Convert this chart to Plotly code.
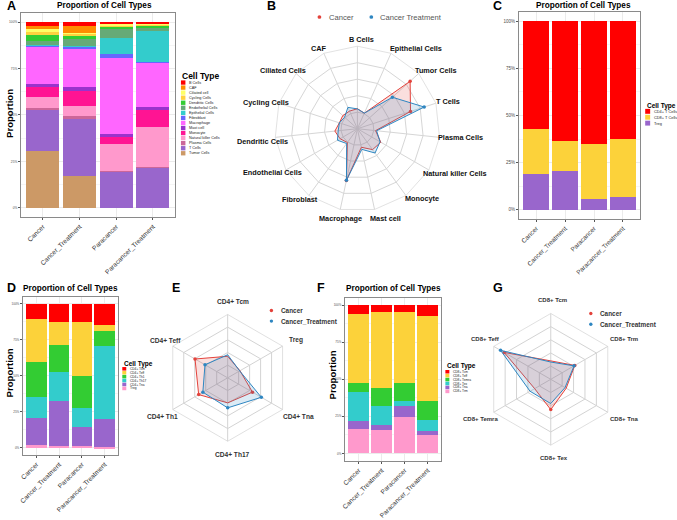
import plotly.graph_objects as go

W, H = 677, 520
FONT = "Arial, Liberation Sans, sans-serif"

# ---------------- data ----------------
groups = ["Cancer", "Cancer_Treatment", "Paracancer", "Paracancer_Treatment"]

# Panel A (all cell types) - percentages per group, legend order (top of stack first)
a_types = ["B Cells", "CAF", "Ciliated cell", "Cycling Cells", "Dendritic Cells",
           "Endothelial Cells", "Epithelial Cells", "Fibroblast", "Macrophage",
           "Mast cell", "Monocyte", "Natural killer Cells", "Plasma Cells",
           "T Cells", "Tumor Cells"]
a_colors = ["#FF0000", "#FF8C00", "#FFFF66", "#FFD23F", "#33CC33", "#66AA77",
            "#33CCCC", "#6666FF", "#FF66FF", "#9933CC", "#FF1493", "#FF99CC",
            "#CC6699", "#9966CC", "#CC9966"]
a_cancer = [2.0, 1.6, 1.8, 1.4, 3.5, 2.0, 0.3, 0.3, 20.8, 1.4, 5.3, 6.0, 1.0, 22.4, 31.0]
a_cancer_t = [1.9, 3.9, 0.4, 1.4, 1.6, 3.7, 0.3, 1.0, 20.6, 2.6, 7.7, 5.5, 1.6, 30.6, 17.4]
a_para = [0.5, 0.3, 0.7, 0.9, 1.2, 4.9, 8.5, 2.5, 40.7, 1.6, 4.0, 14.6, 0.3, 19.5, 0.0]
a_para_t = [0.5, 0.3, 0.4, 0.5, 1.0, 2.1, 16.7, 0.2, 24.1, 1.8, 8.8, 21.8, 0.4, 21.7, 0.0]

# Panel B radar
b_axes = ["B Cells", "Epithelial Cells", "Tumor Cells", "T Cells", "Plasma Cells",
          "Natural killer Cells", "Monocyte", "Mast cell", "Macrophage", "Fibroblast",
          "Endothelial Cells", "Dendritic Cells", "Cycling Cells", "Ciliated Cells", "CAF"]
b_cancer = [2.0, 0.3, 31.0, 22.4, 1.0, 6.0, 5.3, 1.4, 20.8, 0.3, 2.0, 3.5, 1.4, 1.8, 1.6]
b_cancer_t = [1.9, 0.3, 17.4, 30.6, 1.6, 5.5, 7.7, 2.6, 20.6, 1.0, 3.7, 1.6, 1.4, 0.4, 3.9]

# Panel C (T cells)
c_types = ["CD4+ T Cells", "CD8+ T Cells", "Treg"]
c_colors = ["#FF0000", "#FCD23A", "#9966CC"]
c_cancer = [57.1, 24.0, 18.9]
c_cancer_t = [63.7, 15.7, 20.6]
c_para = [65.0, 29.2, 5.8]
c_para_t = [62.3, 30.9, 6.8]

# Panel D (CD4+)
d_types = ["CD4+ Tcm", "CD4+ Teff", "CD4+ Th1", "CD4+ Th17", "CD4+ Tna", "Treg"]
d_colors = ["#FF0000", "#FCD23A", "#33CC33", "#33CCCC", "#9966CC", "#FF99CC"]
d_cancer = [10.5, 29.6, 24.6, 14.6, 18.9, 1.8]
d_cancer_t = [12.3, 16.0, 18.9, 20.5, 31.0, 1.4]
d_para = [12.8, 37.1, 22.8, 13.0, 13.0, 1.4]
d_para_t = [14.6, 4.3, 10.5, 51.0, 19.6, 0.3]

# Panel E radar (CD4+)
e_axes = ["CD4+ Tcm", "Treg", "CD4+ Tna", "CD4+ Th17", "CD4+ Th1", "CD4+ Teff"]
e_cancer = [10.5, 1.8, 18.9, 14.6, 24.6, 29.6]
e_cancer_t = [12.3, 1.4, 31.0, 20.5, 18.9, 16.0]

# Panel F (CD8+)
f_types = ["CD8+ Tcm", "CD8+ Teff", "CD8+ Temra", "CD8+ Tex", "CD8+ Tna", "CD8+ Trm"]
f_colors = ["#FF0000", "#FCD23A", "#33CC33", "#33CCCC", "#9966CC", "#FF99CC"]
f_cancer = [6.0, 46.3, 6.2, 19.5, 5.3, 16.6]
f_cancer_t = [4.7, 51.0, 12.2, 12.6, 3.8, 15.7]
f_para = [4.9, 47.2, 12.4, 3.5, 7.3, 24.6]
f_para_t = [7.5, 57.0, 12.6, 7.5, 3.1, 12.2]

# Panel G radar (CD8+)
g_axes = ["CD8+ Tcm", "CD8+ Trm", "CD8+ Tna", "CD8+ Tex", "CD8+ Temra", "CD8+ Teff"]
g_cancer = [6.0, 16.6, 5.3, 19.5, 6.2, 46.3]
g_cancer_t = [4.7, 15.7, 3.8, 12.6, 12.2, 51.0]

series_names = ["Cancer", "Cancer_Treatment"]
RED = "#E3423B"
BLUE = "#2E86C1"

# axis-label placement (pixel centres) for the radar panels
b_label_pos = [(360, 40), (414, 49), (435, 72), (446.5, 103), (459.5, 140),
               (453.5, 176.5), (420, 202), (384, 222), (338.5, 222), (298, 203),
               (270.5, 176), (260, 144), (263.5, 104), (281, 72), (316.5, 49)]
e_label_pos = [(230.5, 306.5), (294, 346), (296, 424), (229.5, 462), (159, 424), (162.5, 346)]
g_label_pos = [(552, 305), (624, 345), (624, 426), (553.5, 466), (479.5, 426), (484, 345)]

# ---------------- helpers ----------------
def X(p):
    return p / W


def Y(p):
    return 1 - p / H


fig = go.Figure()
shapes = []
annotations = []


def text(x, y, s, size, bold=False, color="#000000", xanchor="left", yanchor="middle", angle=0):
    annotations.append(dict(
        x=X(x), y=Y(y), xref="paper", yref="paper", text=s, showarrow=False,
        xanchor=xanchor, yanchor=yanchor, textangle=angle,
        font=dict(family=FONT, size=size, color=color, weight="bold" if bold else "normal"),
    ))


def bar_panel(idx, box, types, colors, cols, tick_size, xtick_size):
    xa = "x" if idx == 1 else "x%d" % idx
    ya = "y" if idx == 1 else "y%d" % idx
    for i in reversed(range(len(types))):
        fig.add_trace(go.Bar(
            x=groups, y=[c[i] for c in cols], name=types[i],
            marker=dict(color=colors[i], line=dict(width=0)), width=0.9,
            xaxis=xa, yaxis=ya, showlegend=False,
        ))
    x0, x1, y0, y1 = box
    common = dict(showline=True, mirror=True, linecolor="#8A8A8A", linewidth=1,
                  zeroline=False, ticks="outside", ticklen=2, tickcolor="#555555",
                  gridcolor="#EBEBEB", gridwidth=0.6, showgrid=True)
    fig.layout["xaxis" if idx == 1 else "xaxis%d" % idx] = dict(
        domain=[X(x0), X(x1)], anchor=ya, type="category",
        categoryorder="array", categoryarray=groups, range=[-0.6, 3.6],
        tickangle=-45, tickfont=dict(family=FONT, size=xtick_size, color="#333333"),
        **common)
    fig.layout["yaxis" if idx == 1 else "yaxis%d" % idx] = dict(
        domain=[Y(y1), Y(y0)], anchor=xa, range=[-0.05, 1.05],
        tickmode="array", tickvals=[0, 0.25, 0.5, 0.75, 1.0],
        ticktext=["0%", "25%", "50%", "75%", "100%"],
        tickfont=dict(family=FONT, size=tick_size, color="#4D4D4D"),
        minor=dict(tickvals=[0.125, 0.375, 0.625, 0.875], showgrid=True,
                   gridcolor="#F5F5F5", gridwidth=0.4),
        **common)


def legend(x, ytitle, title, title_size, y_first, step, types, colors, key_w, key_h, size):
    text(x - 0.5, ytitle, title, title_size, bold=True)
    for i, (t, c) in enumerate(zip(types, colors)):
        yc = y_first + i * step
        shapes.append(dict(type="rect", xref="paper", yref="paper",
                           x0=X(x), x1=X(x + key_w), y0=Y(yc + key_h / 2), y1=Y(yc - key_h / 2),
                           fillcolor=c, line=dict(width=0)))
        text(x + key_w + 1.5, yc, t, size, color="#222222")


def radar(idx, center, radius, axes, s1, s2, rng, tickvals, grid, label_pos, lab_size, lab_color):
    name = "polar" if idx == 1 else "polar%d" % idx
    cx, cy = center
    for vals, col, fillc, nm in [(s1, RED, "rgba(227,66,59,0.17)", series_names[0]),
                                 (s2, BLUE, "rgba(46,134,193,0.17)", series_names[1])]:
        fig.add_trace(go.Scatterpolar(
            r=list(vals) + [vals[0]], theta=list(axes) + [axes[0]], subplot=name,
            mode="lines+markers", fill="toself", fillcolor=fillc, name=nm,
            line=dict(color=col, width=1), marker=dict(color=col, size=3.5),
            showlegend=False,
        ))
    fig.layout[name] = dict(
        domain=dict(x=[X(cx - radius), X(cx + radius)], y=[Y(cy + radius), Y(cy - radius)]),
        bgcolor="rgba(0,0,0,0)", gridshape="linear",
        angularaxis=dict(type="category", categoryorder="array", categoryarray=axes,
                         rotation=90, direction="clockwise", showgrid=True,
                         gridcolor=grid, gridwidth=0.7, showline=True, linecolor=grid,
                         linewidth=0.7, ticks="", showticklabels=False),
        radialaxis=dict(range=rng, tickmode="array", tickvals=tickvals, showticklabels=False,
                        ticks="", showline=False, gridcolor=grid, gridwidth=0.7),
    )
    for lab, (lx, ly) in zip(axes, label_pos):
        text(lx, ly, lab, lab_size, bold=True, color=lab_color, xanchor="center")


# ---------------- panels ----------------
bar_panel(1, (17, 172, 13, 221), a_types, a_colors,
          [a_cancer, a_cancer_t, a_para, a_para_t], 3.2, 6.6)
bar_panel(2, (518, 640, 12, 223), c_types, c_colors,
          [c_cancer, c_cancer_t, c_para, c_para_t], 4.5, 6.4)
bar_panel(3, (19, 115, 302, 463), d_types, d_colors,
          [d_cancer, d_cancer_t, d_para, d_para_t], 3.0, 6.6)
bar_panel(4, (343, 440, 303, 469), f_types, f_colors,
          [f_cancer, f_cancer_t, f_para, f_para_t], 3.0, 6.6)

radar(1, (355.5, 131), 84, b_axes, b_cancer, b_cancer_t, [-9.4, 37.6],
      [0, 9.4, 18.8, 28.2], "#D6D6D6", b_label_pos, 7.3, "#111111")
radar(2, (225, 384.5), 64.5, e_axes, e_cancer, e_cancer_t, [-15, 60],
      [0, 15, 30, 45], "#D3D3D3", e_label_pos, 6.6, "#333333")
radar(3, (550, 386), 67, g_axes, g_cancer, g_cancer_t, [-15, 60],
      [0, 15, 30, 45], "#D3D3D3", g_label_pos, 6.0, "#333333")

# ---------------- titles, labels, legends ----------------
for lbl, x, y in [("A", 1, 6), ("B", 263, 6), ("C", 490, 6), ("D", 1, 293),
                  ("E", 167, 293), ("F", 313, 293), ("G", 490, 293)]:
    text(x, y, lbl, 12.5, bold=True)

for cx, cy in [(101.5, 6), (583, 6), (67, 294), (391.5, 294)]:
    text(cx, cy, "Proportion of Cell Types", 8.2, bold=True, xanchor="center")

for cx, cy in [(5, 115), (5, 379), (330, 382)]:
    text(cx, cy, "Proportion", 9.6, bold=True, xanchor="center", angle=-90)

legend(178, 77, "Cell Type", 8.5, 84, 5.14, a_types, a_colors, 4.5, 4.4, 3.8)
legend(645, 107.5, "Cell Type", 6.5, 113.3, 6.0, c_types, c_colors, 5, 5, 3.9)
legend(119, 370, "Cell Type", 6.5, 375.3, 4.0, d_types, d_colors, 4, 3.6, 3.2)
legend(444, 372, "Cell Type", 6.5, 378.3, 4.0, f_types, f_colors, 4, 3.6, 3.2)


def dot(x, y, col, r=1.9):
    shapes.append(dict(type="circle", xref="paper", yref="paper",
                       x0=X(x - r), x1=X(x + r), y0=Y(y + r), y1=Y(y - r),
                       fillcolor=col, line=dict(width=0)))


# B legend (horizontal, top)
dot(317.3, 17.3, RED)
text(324.5, 17.3, "Cancer", 7.6, color="#555555")
dot(369.5, 17.3, BLUE)
text(376.5, 17.3, "Cancer Treatment", 7.6, color="#555555")

# E legend
for i, (nm, col) in enumerate(zip(series_names, [RED, BLUE])):
    dot(269, 316 + i * 10.7, col, 1.7)
    text(276.5, 316 + i * 10.7, nm, 6.4, bold=True, color="#333333")
# G legend
for i, (nm, col) in enumerate(zip(series_names, [RED, BLUE])):
    dot(590.3, 319 + i * 11, col, 1.7)
    text(598, 319 + i * 11, nm, 6.4, bold=True, color="#333333")

fig.update_layout(
    width=W, height=H, margin=dict(l=0, r=0, t=0, b=0),
    paper_bgcolor="white", plot_bgcolor="white",
    barmode="stack", barnorm="fraction", bargap=0.1,
    font=dict(family=FONT), showlegend=False,
    shapes=shapes, annotations=annotations,
)

fig.write_html("out.html")
